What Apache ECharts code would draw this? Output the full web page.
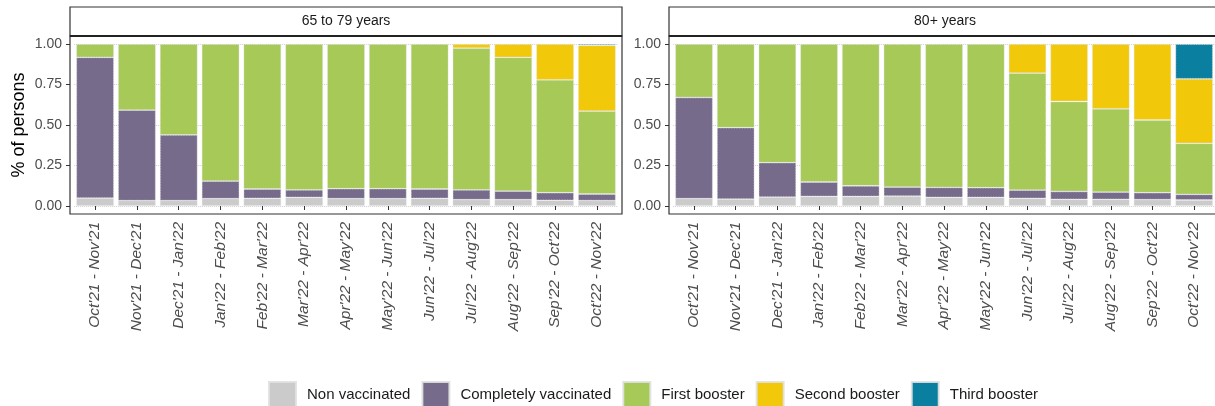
<!DOCTYPE html>
<html>
<head>
<meta charset="utf-8">
<script src="https://cdn.jsdelivr.net/npm/echarts@6/dist/echarts.min.js"></script>
<style>
html,body{margin:0;padding:0;background:#fff;}
#chart{width:1215px;height:406px;}
</style>
</head>
<body>
<div id="chart"></div>
<script>
// ---- data ----
const categories = ["Oct'21 - Nov'21","Nov'21 - Dec'21","Dec'21 - Jan'22","Jan'22 - Feb'22","Feb'22 - Mar'22","Mar'22 - Apr'22","Apr'22 - May'22","May'22 - Jun'22","Jun'22 - Jul'22","Jul'22 - Aug'22","Aug'22 - Sep'22","Sep'22 - Oct'22","Oct'22 - Nov'22"];
const panelTitles = ["65 to 79 years", "80+ years"];
const seriesNames = ["Non vaccinated","Completely vaccinated","First booster","Second booster","Third booster"];
const yTicks = [0, 0.25, 0.5, 0.75, 1];

// 65 to 79 years
const nonVac65 =   [0.049,0.033,0.033,0.045,0.047,0.053,0.045,0.045,0.047,0.039,0.039,0.035,0.033];
const complete65 = [0.869,0.559,0.406,0.109,0.058,0.047,0.062,0.062,0.058,0.061,0.053,0.047,0.041];
const first65 =    [0.082,0.408,0.561,0.846,0.895,0.900,0.893,0.893,0.895,0.875,0.826,0.697,0.512];
const second65 =   [0,0,0,0,0,0,0,0,0,0.025,0.082,0.221,0.406];
const third65 =    [0,0,0,0,0,0,0,0,0,0,0,0,0.008];

// 80+ years
const nonVac80 =   [0.045,0.043,0.055,0.059,0.059,0.061,0.053,0.053,0.047,0.041,0.041,0.039,0.037];
const complete80 = [0.625,0.441,0.213,0.089,0.066,0.056,0.062,0.060,0.051,0.049,0.045,0.043,0.035];
const first80 =    [0.330,0.516,0.732,0.852,0.875,0.883,0.885,0.887,0.722,0.555,0.514,0.449,0.315];
const second80 =   [0,0,0,0,0,0,0,0,0.180,0.355,0.400,0.469,0.398];
const third80 =    [0,0,0,0,0,0,0,0,0,0,0,0,0.215];

const colors = ['#cbcbcb','#776b8b','#a6c957','#f1c90a','#0b7fa0'];

// ---- layout ----
const panels = [
  {x:70, data:[nonVac65,complete65,first65,second65,third65]},
  {x:669, data:[nonVac80,complete80,first80,second80,third80]}
];
const PW = 552, PTOP = 36, PBOT = 214, STRIP_TOP = 7;
const unit = PW / 13.2;      // ggplot discrete expansion 0.6 each side
const innerPad = unit * 0.1;
const Y1 = 44, Y0 = 206;
const FONT = 'Liberation Sans, Arial, sans-serif';

const grids = [], xAxes = [], yAxes = [], series = [], graphics = [];
panels.forEach((p, i) => {
  grids.push({left: p.x + innerPad, top: Y1, width: PW - 2*innerPad, height: Y0 - Y1, containLabel:false});
  xAxes.push({
    type:'category', gridIndex:i, data:categories, offset: PBOT - Y0,
    axisLine:{show:false},
    axisTick:{show:true, alignWithLabel:true, length:4, lineStyle:{color:'#333', width:1}},
    axisLabel:{rotate:90, interval:0, margin:8, fontSize:15.5, fontStyle:'italic', color:'#4d4d4d', fontFamily:FONT},
    splitLine:{show:false}
  });
  yAxes.push({
    type:'value', gridIndex:i, min:0, max:1, interval:0.25, offset: innerPad,
    name: i===0 ? '% of persons' : '', nameLocation:'middle', nameRotate:90, nameGap:42,
    nameTextStyle:{fontSize:18, color:'#000', fontFamily:FONT},
    axisLine:{show:false},
    axisTick:{show:true, length:4, lineStyle:{color:'#333'}},
    axisLabel:{margin:8, fontSize:14, color:'#4d4d4d', fontFamily:FONT,
      customValues: yTicks, formatter: v => v.toFixed(2)},
    splitLine:{show:true, lineStyle:{color:'#d0d0d0', type:'dotted', width:1}}
  });
  p.data.forEach((vals, k) => {
    series.push({
      name: seriesNames[k], type:'bar', stack:'s'+i, xAxisIndex:i, yAxisIndex:i,
      barWidth:'90%', z:2,
      data: vals.map(v => v === 0 ? '-' : v),
      itemStyle:{color:colors[k], borderColor:'rgba(225,225,225,0.9)', borderWidth:0.8, borderType:'dotted'},
      emphasis:{disabled:true}, animation:false
    });
  });
  // panel border
  graphics.push({type:'rect', shape:{x:p.x, y:PTOP, width:PW, height:PBOT-PTOP}, style:{fill:null, stroke:'#333', lineWidth:1.2}, z:100, silent:true});
  // strip
  graphics.push({type:'rect', shape:{x:p.x, y:STRIP_TOP, width:PW, height:PTOP-STRIP_TOP}, style:{fill:'#fff', stroke:'#333', lineWidth:1.2}, z:100, silent:true});
  graphics.push({type:'line', shape:{x1:p.x, y1:PTOP, x2:p.x+PW, y2:PTOP}, style:{stroke:'#222', lineWidth:2.2}, z:101, silent:true});
  graphics.push({type:'text', x:p.x + PW/2, y:(STRIP_TOP+PTOP)/2, style:{text:panelTitles[i], fill:'#1a1a1a', fontSize:14, fontFamily:FONT, align:'center', verticalAlign:'middle'}, z:102, silent:true});
});

const chart = echarts.init(document.getElementById('chart'), null, {renderer:'canvas'});
chart.setOption({
  animation:false,
  color: colors,
  grid: grids, xAxis: xAxes, yAxis: yAxes, series: series,
  legend:{
    data: seriesNames, left:268, top:381, padding:0, icon:'rect', itemWidth:27, itemHeight:26, itemGap:11,
    textStyle:{fontSize:15, color:'#1a1a1a', fontFamily:FONT, padding:[0,0,0,6]},
    selectedMode:false
  },
  graphic: graphics
});
</script>
</body>
</html>
